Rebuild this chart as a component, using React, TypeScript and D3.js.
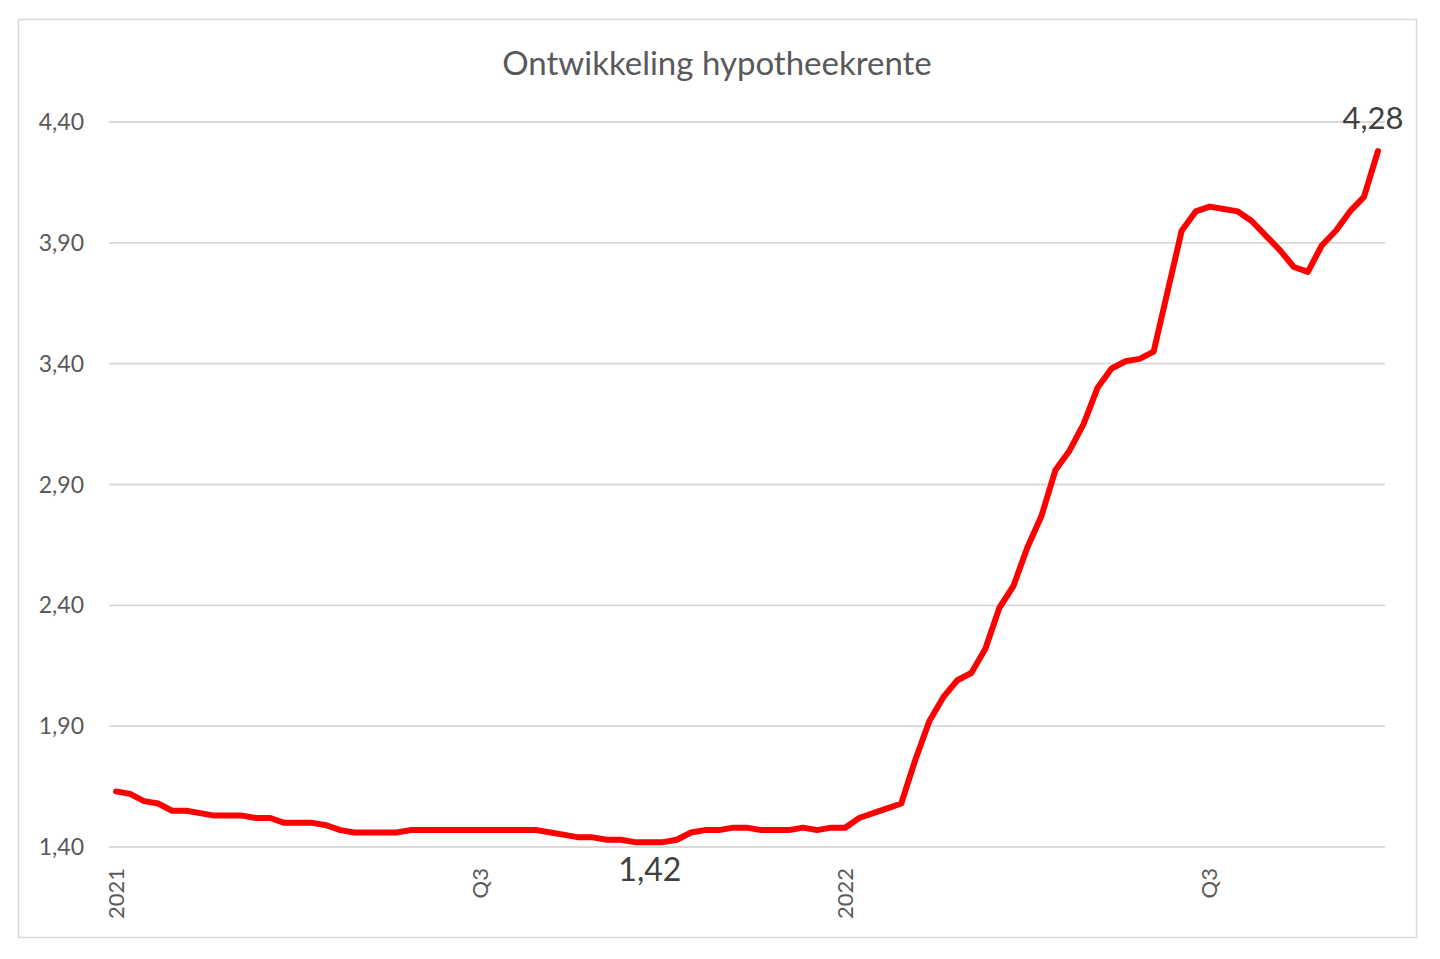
import { useEffect, useRef } from "react";
import * as d3 from "d3";

// weekly mortgage rate, first week of 2021 onwards
const RATES = [
  1.63, 1.62, 1.59, 1.58, 1.55, 1.55, 1.54, 1.53, 1.53, 1.53,
  1.52, 1.52, 1.5, 1.5, 1.5, 1.49, 1.47, 1.46, 1.46, 1.46,
  1.46, 1.47, 1.47, 1.47, 1.47, 1.47, 1.47, 1.47, 1.47, 1.47,
  1.47, 1.46, 1.45, 1.44, 1.44, 1.43, 1.43, 1.42, 1.42, 1.42,
  1.43, 1.46, 1.47, 1.47, 1.48, 1.48, 1.47, 1.47, 1.47, 1.48,
  1.47, 1.48, 1.48, 1.52, 1.54, 1.56, 1.58, 1.76, 1.92, 2.02,
  2.09, 2.12, 2.22, 2.39, 2.48, 2.64, 2.77, 2.96, 3.04, 3.15,
  3.3, 3.38, 3.41, 3.42, 3.45, 3.7, 3.95, 4.03, 4.05, 4.04,
  4.03, 3.99, 3.93, 3.87, 3.8, 3.78, 3.89, 3.95, 4.03, 4.09,
  4.28,
];
const X_TICK_INDEX = [0, 26, 52, 78];
const X_TICK_LABELS = ["2021", "Q3", "2022", "Q3"];
const Y_TICKS = [1.4, 1.9, 2.4, 2.9, 3.4, 3.9, 4.4];
const LABELLED = [
  { index: 38, text: "1,42", below: true },
  { index: 90, text: "4,28", below: false },
];
const TITLE = "Ontwikkeling hypotheekrente";

const FONT = "Lato, 'Open Sans', sans-serif";

function RateChart() {
  const ref = useRef<SVGSVGElement>(null);
  useEffect(() => {
    const el = ref.current;
    if (!el) return;
    const W = 1440, H = 959;
    const M = { top: 122, right: 55, bottom: 112, left: 109 };
    const svg = d3.select(el).attr("viewBox", `0 0 ${W} ${H}`).attr("width", W).attr("height", H);
    svg.selectAll("*").remove();

    svg.append("rect").attr("x", 0).attr("y", 0).attr("width", W).attr("height", H).attr("fill", "#fff");
    // chart frame
    svg.append("rect").attr("x", 18.5).attr("y", 19.5).attr("width", 1398).attr("height", 918)
      .attr("fill", "none").attr("stroke", "#d9d9d9").attr("stroke-width", 1.5);

    svg.append("text").attr("x", 717).attr("y", 75).attr("text-anchor", "middle")
      .attr("fill", "#595959").attr("font-size", 33).attr("font-family", FONT).text(TITLE);

    const x = d3.scaleBand<number>().domain(RATES.map((_d, i) => i)).range([M.left, W - M.right]);
    const cx = (i: number) => (x(i) ?? 0) + x.bandwidth() / 2;
    const y = d3.scaleLinear().domain([1.4, 4.4]).range([H - M.bottom, M.top]);
    const fmt = (v: number) => v.toFixed(2).replace(".", ",");

    // gridlines + y labels
    Y_TICKS.forEach((t) => {
      svg.append("line").attr("x1", M.left).attr("x2", W - M.right).attr("y1", y(t)).attr("y2", y(t))
        .attr("stroke", "#d9d9d9").attr("stroke-width", 1.8);
      svg.append("text").attr("x", 84).attr("y", y(t)).attr("dy", "0.35em").attr("text-anchor", "end")
        .attr("fill", "#595959").attr("font-size", 23).attr("font-family", FONT).text(fmt(t));
    });

    // x labels, rotated
    X_TICK_INDEX.forEach((idx, k) => {
      const px = cx(idx), py = y(1.4) + 21;
      svg.append("text").attr("transform", `translate(${px},${py}) rotate(-90)`)
        .attr("text-anchor", "end").attr("dy", "0.35em")
        .attr("fill", "#595959").attr("font-size", 22).attr("font-family", FONT).text(X_TICK_LABELS[k]);
    });

    const line = d3.line<number>().x((_d, i) => cx(i)).y((d) => y(d));
    svg.append("path").attr("d", line(RATES) ?? "").attr("fill", "none").attr("stroke", "#ff0000")
      .attr("stroke-width", 6).attr("stroke-linejoin", "round").attr("stroke-linecap", "round");

    LABELLED.forEach((l) => {
      svg.append("text").attr("x", cx(l.index) + (l.below ? 1 : -5))
        .attr("y", y(RATES[l.index]) + (l.below ? 39 : -22))
        .attr("text-anchor", "middle").attr("fill", "#404040").attr("font-size", l.below ? 32 : 31)
        .attr("font-family", FONT).text(l.text);
    });
  }, []);
  return <svg ref={ref} role="img" aria-label="Ontwikkeling hypotheekrente" style={{ position: "absolute", left: 0, top: 0 }} />;
}

export default function App() {
  return <RateChart />;
}
